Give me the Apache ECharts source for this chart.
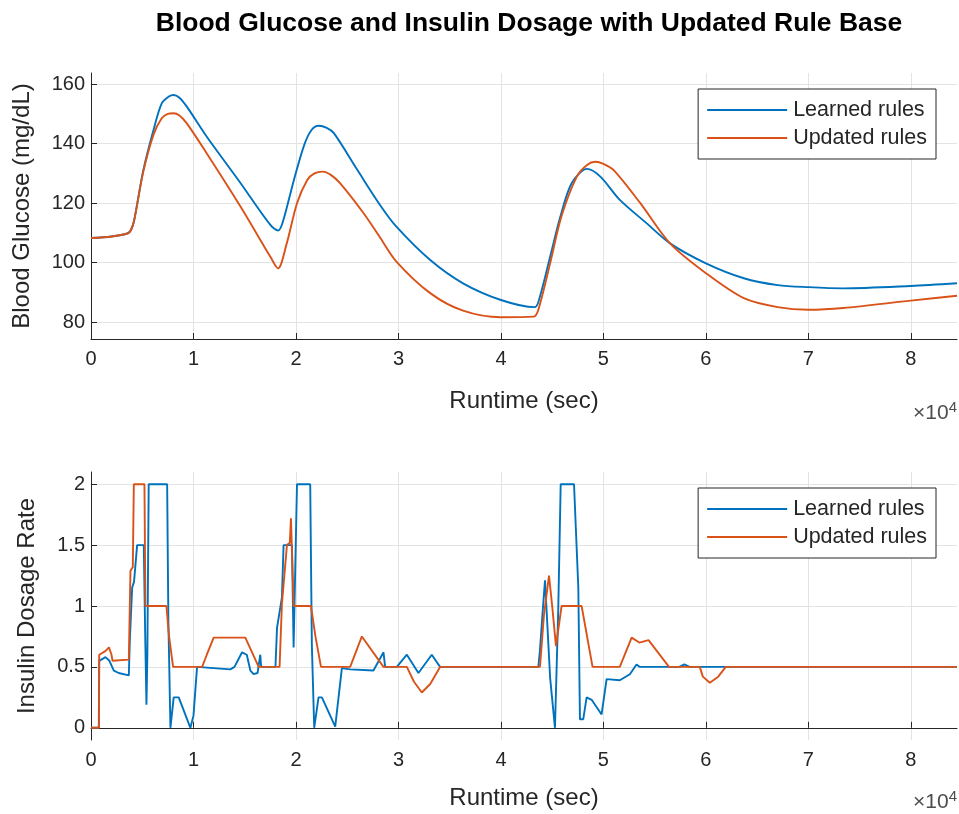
<!DOCTYPE html>
<html>
<head>
<meta charset="utf-8">
<script src="https://cdn.jsdelivr.net/npm/echarts@6/dist/echarts.min.js"></script>
<style>html,body{margin:0;padding:0;background:#fff}#c{width:959px;height:814px}</style>
</head>
<body>
<div id="c"></div>
<script>
const seriesNames = ['Learned rules', 'Updated rules'];
const xTicks = [0, 10000, 20000, 30000, 40000, 50000, 60000, 70000, 80000];
const glucoseTicks = [80, 100, 120, 140, 160];
const insulinTicks = [0, 0.5, 1, 1.5, 2];

// Blood glucose (mg/dL) vs runtime (sec)
const glucoseLearned = [[0,108.3],[2000,108.8],[3600,109.9],[3900,111],[4200,114],[5100,131],[6100,144.6],[6900,153.5],[7600,155.8],[8050,156.3],[8600,155.5],[9350,152.4],[11300,142.3],[14600,126.7],[17500,112.7],[18250,110.8],[18700,113.5],[19800,127.8],[20800,139.5],[21500,144.5],[22200,146.0],[23000,145.3],[23700,143.5],[26000,131.1],[28200,119.4],[29800,112.1],[33100,100.9],[36300,93.1],[40000,87.5],[43300,85.1],[43800,88.6],[44800,102],[45800,115.5],[46900,126.7],[48400,131.5],[49700,128.9],[51600,121.1],[54200,113.3],[56500,106.5],[60000,99.8],[63700,94.8],[67000,92.5],[70000,91.8],[73400,91.4],[80000,92.2],[84500,93.1]];
const glucoseUpdated = [[0,108.3],[2000,108.8],[3600,109.9],[3900,111],[4200,114],[5100,130.5],[6100,143],[6900,148.5],[7500,150],[8050,150.2],[8600,149.5],[9350,146.8],[11300,136.7],[14600,118.8],[17500,102],[18250,98.1],[19100,106.5],[20100,120],[21100,127.8],[21800,130],[22600,130.6],[23400,129.5],[24300,126.7],[26600,116.6],[28200,108.5],[29800,100.4],[33100,89.8],[36300,83.9],[40000,81.7],[43200,81.9],[43650,84.2],[44800,99.8],[45900,115.5],[47400,128.9],[48400,132.8],[49200,133.9],[50000,133.2],[51000,131.1],[53600,120],[56500,106.5],[60000,96.5],[63700,88.1],[67000,85.1],[70000,84.2],[73400,84.8],[80000,87.3],[84500,88.9]];

// Insulin dosage rate vs runtime (sec)
const insulinLearned = [[0,0],[760,0],[800,0.55],[1410,0.58],[1800,0.55],[2225,0.47],[2700,0.45],[3690,0.43],[3785,0.71],[4015,1.15],[4200,1.2],[4500,1.5],[5150,1.5],[5300,0.7],[5410,0.19],[5500,0.6],[5630,2.0],[7430,2.0],[7550,0.88],[7750,0],[7900,0],[8070,0.25],[8560,0.25],[9700,0],[10000,0.1],[10350,0.5],[13600,0.48],[14000,0.5],[14740,0.62],[15200,0.6],[15550,0.47],[15870,0.44],[16250,0.45],[16520,0.6],[16600,0.5],[18000,0.5],[18150,0.82],[18630,1.07],[18790,1.5],[19610,1.5],[19770,0.66],[20100,2.0],[21390,2.0],[21550,0.68],[21780,0],[22200,0.25],[22530,0.25],[23830,0.01],[24480,0.49],[25290,0.48],[27560,0.47],[28540,0.62],[28700,0.5],[29840,0.5],[30820,0.6],[31950,0.45],[33250,0.6],[34060,0.5],[43650,0.5],[43800,0.63],[44050,0.93],[44300,1.21],[44800,0.41],[45270,0],[45590,0.96],[45830,2.0],[47130,2.0],[47550,1.15],[47710,0.07],[48030,0.07],[48360,0.25],[48850,0.23],[49820,0.11],[50310,0.4],[51600,0.39],[52580,0.44],[53230,0.52],[53560,0.5],[57400,0.5],[57900,0.52],[58400,0.5],[84500,0.5]];
const insulinUpdated = [[0,0],[780,0],[800,0.6],[1400,0.63],[1750,0.66],[2000,0.6],[2100,0.55],[3690,0.56],[3850,1.29],[4080,1.32],[4180,2.0],[5215,2.0],[5310,1.0],[7360,1.0],[7590,0.77],[8010,0.5],[10840,0.5],[11300,0.6],[11970,0.74],[15060,0.74],[16360,0.5],[18400,0.5],[18630,1.02],[19120,1.5],[19400,1.52],[19510,1.72],[19770,1.0],[21460,1.0],[21900,0.75],[22440,0.5],[25290,0.5],[26430,0.75],[28540,0.5],[30820,0.5],[31500,0.38],[32280,0.29],[33100,0.36],[34060,0.5],[43810,0.5],[44200,0.93],[44690,1.25],[45000,1.0],[45370,0.67],[45920,1.0],[47870,1.0],[48940,0.5],[51600,0.5],[52750,0.74],[53500,0.7],[54400,0.72],[56400,0.5],[59400,0.5],[59700,0.42],[60380,0.37],[61200,0.42],[61940,0.5],[84500,0.5]];

const BLUE = '#0072BD', ORANGE = '#D95319', AX = '#262626';
const FONT = "'Liberation Sans', Arial, Helvetica, sans-serif";

function xAxisCfg(gridIndex, gap) {
  return {
    type: 'value', gridIndex, min: 0, max: 84500,
    name: 'Runtime (sec)', nameLocation: 'middle', nameGap: gap,
    nameTextStyle: { fontSize: 24, color: AX, fontFamily: FONT },
    axisLine: { show: true, lineStyle: { color: AX, width: 1 } },
    axisTick: { show: true, inside: true, length: 6, customValues: xTicks, lineStyle: { color: AX } },
    axisLabel: { customValues: xTicks, formatter: v => String(v / 10000), fontSize: 20, color: AX, margin: 10, fontFamily: FONT },
    splitLine: { show: true, lineStyle: { color: '#e3e3e3', width: 1 } }
  };
}
function yAxisCfg(gridIndex, name, min, max, ticks, gap) {
  return {
    type: 'value', gridIndex, min, max,
    name, nameLocation: 'middle', nameGap: gap,
    nameTextStyle: { fontSize: 24, color: AX, fontFamily: FONT },
    axisLine: { show: true, lineStyle: { color: AX, width: 1 } },
    axisTick: { show: true, inside: true, length: 6, customValues: ticks, lineStyle: { color: AX } },
    axisLabel: { customValues: ticks, fontSize: 20, color: AX, margin: 6, fontFamily: FONT },
    splitLine: { show: true, lineStyle: { color: '#e3e3e3', width: 1 } }
  };
}
function legendCfg(top) {
  return {
    data: seriesNames, orient: 'vertical', right: 23, top,
    icon: 'rect', itemWidth: 80, itemHeight: 2, itemGap: 6,
    padding: [10, 9, 10, 9], borderColor: AX, borderWidth: 1, backgroundColor: '#fff',
    textStyle: { fontSize: 21.5, color: AX, fontFamily: FONT, padding: [0, 0, 0, 1] }
  };
}
function lineSeries(name, color, data, xi, smooth) {
  return {
    name, type: 'line', xAxisIndex: xi, yAxisIndex: xi, data,
    showSymbol: false, symbol: 'none', smooth: smooth,
    lineStyle: { color, width: 1.9 }, itemStyle: { color }, animation: false
  };
}

const chart = echarts.init(document.getElementById('c'), null, { renderer: 'canvas' });
chart.setOption({
  animation: false,
  backgroundColor: '#fff',
  title: { text: 'Blood Glucose and Insulin Dosage with Updated Rule Base', left: 524, textAlign: 'center', top: 5,
    textStyle: { fontSize: 26.5, fontWeight: 'bold', color: '#000', fontFamily: FONT } },
  grid: [
    { left: 91, top: 73, width: 866, height: 266 },
    { left: 91, top: 472, width: 866, height: 268 }
  ],
  xAxis: [xAxisCfg(0, 50), xAxisCfg(1, 46)],
  yAxis: [
    yAxisCfg(0, 'Blood Glucose (mg/dL)', 74.4, 163.7, glucoseTicks, 57),
    yAxisCfg(1, 'Insulin Dosage Rate', -0.1, 2.1, insulinTicks, 52)
  ],
  legend: [legendCfg(89), legendCfg(488)],
  series: [
    lineSeries(seriesNames[0], BLUE, glucoseLearned, 0, 0.3),
    lineSeries(seriesNames[1], ORANGE, glucoseUpdated, 0, 0.3),
    lineSeries(seriesNames[0], BLUE, insulinLearned, 1, false),
    lineSeries(seriesNames[1], ORANGE, insulinUpdated, 1, false)
  ],
  graphic: [
    { type: 'text', right: 2, top: 400, style: { text: '×10{s|4}', fill: '#4d4d4d', font: "21px 'Liberation Sans', Arial",
      rich: { s: { fontSize: 15, verticalAlign: 'top', padding: [0, 0, 12, 0] } } } },
    { type: 'text', right: 2, top: 789, style: { text: '×10{s|4}', fill: '#4d4d4d', font: "21px 'Liberation Sans', Arial",
      rich: { s: { fontSize: 15, verticalAlign: 'top', padding: [0, 0, 12, 0] } } } }
  ]
});
</script>
</body>
</html>
